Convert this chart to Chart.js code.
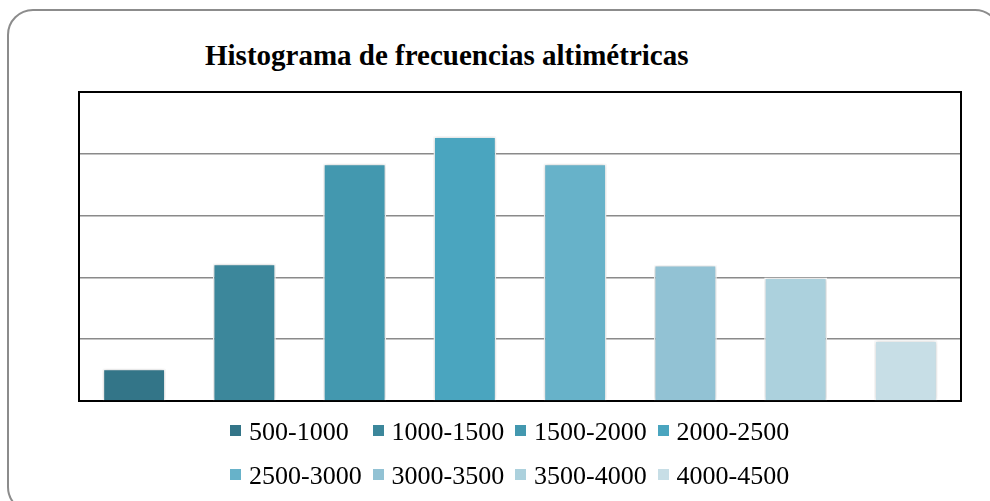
<!DOCTYPE html>
<html lang="es">
<head>
<meta charset="utf-8">
<title>Histograma de frecuencias altimétricas</title>
<script src="https://cdn.jsdelivr.net/npm/chart.js@4.4.0/dist/chart.umd.min.js"></script>
<style>
    html, body { margin: 0; padding: 0; background: #fff; overflow: hidden; }
    #wrap { position: relative; width: 990px; height: 501px; overflow: hidden; }
    #frame {
        position: absolute; left: 7px; top: 9px; width: 990px; height: 500px;
        border: 2px solid #8c8c8c; border-radius: 26px;
    }
    #titulo {
        position: absolute; left: 205px; top: 39px; line-height: 29px;
        font: bold 29px "Liberation Serif", "Times New Roman", serif;
        white-space: nowrap; color: #000;
    }
    #grafico { position: absolute; left: 0; top: 0; }
    #leyenda {
        position: absolute; left: 230px; top: 410px;
        display: grid; grid-template-columns: repeat(4, 142.5px); grid-auto-rows: 44px;
        font: 26px "Liberation Serif", "Times New Roman", serif; color: #000;
    }
    .item { display: flex; align-items: center; white-space: nowrap; line-height: 44px; }
    .caja { width: 11px; height: 11px; margin-right: 8px; position: relative; top: -2px; }
</style>
</head>
<body>
<div id="wrap">
    <div id="frame"></div>
    <div id="titulo">Histograma de frecuencias altimétricas</div>
    <canvas id="grafico" width="990" height="501"></canvas>
    <div id="leyenda"></div>
</div>
<script>
// Datos (% de superficie por rango de altitud)
const rangos = ['500-1000', '1000-1500', '1500-2000', '2000-2500',
                '2500-3000', '3000-3500', '3500-4000', '4000-4500'];
const frecuencias = [2.6, 11.1, 19.2, 21.4, 19.2, 11.0, 10.0, 4.9];
const ejeMax = 25;
const ejePaso = 5;

// Paleta de azules
const colores = ['#337588', '#3c879b', '#4398af', '#4aa5bf',
                 '#67b2c9', '#92c2d4', '#acd1dd', '#c7dee6'];

// Un dataset por rango, para que cada barra tenga su entrada en la leyenda
const datasets = rangos.map((rango, i) => ({
    label: rango,
    data: frecuencias.map((v, j) => (j === i ? v : null)),
    backgroundColor: colores[i],
    borderColor: '#ffffff',
    borderWidth: 1.5,
    skipNull: true,
    barPercentage: 0.57,
    categoryPercentage: 1
}));

// Marco negro del área de trazado + sombra suave de las barras
const marcoPlugin = {
    id: 'marco',
    beforeDatasetsDraw(chart) {
        const { ctx, chartArea: a } = chart;
        ctx.save();
        ctx.strokeStyle = '#000';
        ctx.lineWidth = 2;
        ctx.strokeRect(a.left, a.top, a.right - a.left, a.bottom - a.top);
        ctx.restore();
        ctx.save();
        ctx.shadowColor = 'rgba(0,0,0,0.22)';
        ctx.shadowBlur = 4;
    },
    afterDatasetsDraw(chart) {
        chart.ctx.restore();
    }
};

const chart = new Chart(document.getElementById('grafico'), {
    type: 'bar',
    data: { labels: rangos, datasets: datasets },
    options: {
        responsive: false,
        animation: false,
        devicePixelRatio: 1,
        layout: { padding: { left: 79, right: 29, top: 92, bottom: 100 } },
        scales: {
            x: { display: false },
            y: {
                min: 0,
                max: ejeMax,
                ticks: { display: false, stepSize: ejePaso },
                grid: { color: '#8a8a8a', lineWidth: 1.5, drawTicks: false },
                border: { display: false }
            }
        },
        plugins: {
            legend: { display: false },
            title: { display: false },
            tooltip: { enabled: false }
        }
    },
    plugins: [marcoPlugin]
});

// Leyenda en HTML, 4 columnas como en el original
const leyenda = document.getElementById('leyenda');
chart.data.datasets.forEach(ds => {
    const item = document.createElement('div');
    item.className = 'item';
    const caja = document.createElement('span');
    caja.className = 'caja';
    caja.style.background = ds.backgroundColor;
    const texto = document.createElement('span');
    texto.textContent = ds.label;
    item.appendChild(caja);
    item.appendChild(texto);
    leyenda.appendChild(item);
});
</script>
</body>
</html>
